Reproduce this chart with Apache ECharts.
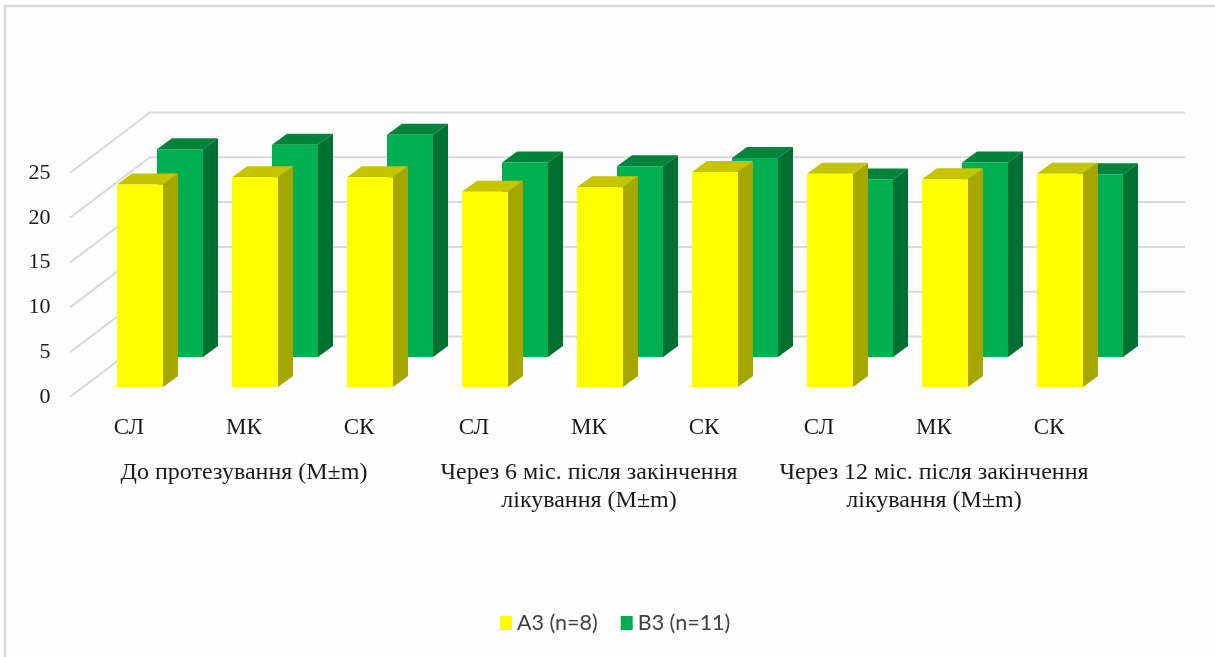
<!DOCTYPE html>
<html>
<head>
<meta charset="utf-8">
<script src="https://cdn.jsdelivr.net/npm/echarts@6/dist/echarts.min.js"></script>
<style>
  html, body { margin: 0; padding: 0; background: #fff; }
  #chart { width: 1215px; height: 657px; }
</style>
</head>
<body>
<div id="chart"></div>
<script>
const measures = ['СЛ', 'МК', 'СК', 'СЛ', 'МК', 'СК', 'СЛ', 'МК', 'СК'];
const periods = [
  'До протезування (M±m)',
  'Через 6 міс. після закінчення\nлікування (M±m)',
  'Через 12 міс. після закінчення\nлікування (M±m)'
];
const tickValues = [0, 5, 10, 15, 20, 25];
const seriesA3 = [22.6, 23.4, 23.4, 21.8, 22.3, 24.0, 23.8, 23.2, 23.8];
const seriesB3 = [23.2, 23.7, 24.8, 21.7, 21.3, 22.2, 19.8, 21.7, 20.4];

// Oblique projection used to fake the 3D column look
const WALL_DX = 80, WALL_DY = 60.5;
const WALL_RIGHT = 1185;
const BAR_WIDTH = 46, SIDE_DX = 15, SIDE_DY = 11;

function poly(points, fill) {
  return { type: 'polygon', shape: { points }, style: { fill, stroke: null } };
}

function column(faceColors, shiftX, shiftY) {
  return function (params, api) {
    const top = api.coord([api.value(0), api.value(1)]);
    const base = api.coord([api.value(0), 0]);
    const x0 = top[0] - BAR_WIDTH / 2 + shiftX, x1 = x0 + BAR_WIDTH;
    const yT = top[1] + shiftY, yB = base[1] + shiftY;
    return {
      type: 'group',
      children: [
        poly([[x1, yT], [x1 + SIDE_DX, yT - SIDE_DY], [x1 + SIDE_DX, yB - SIDE_DY], [x1, yB]], faceColors[1]),
        poly([[x0, yT], [x0 + SIDE_DX, yT - SIDE_DY], [x1 + SIDE_DX, yT - SIDE_DY], [x1, yT]], faceColors[2]),
        { type: 'rect', shape: { x: x0, y: yT, width: BAR_WIDTH, height: yB - yT }, style: { fill: faceColors[0] } }
      ]
    };
  };
}

function wallLine(params, api) {
  const p = api.coord([0, api.value(0)]);
  const size = api.size([1, 0]);
  const x = p[0] - size[0] / 2 - 1.5;
  const pts = [[x, p[1]], [x + WALL_DX, p[1] - WALL_DY], [WALL_RIGHT, p[1] - WALL_DY]];
  return { type: 'polyline', shape: { points: pts }, style: { fill: null, stroke: '#d9d9d9', lineWidth: 2 } };
}

const chart = echarts.init(document.getElementById('chart'), null, { renderer: 'canvas' });
const grid = { left: 71.5, top: 173, width: 1035, height: 224 };
const serif = '"Liberation Serif", serif';

chart.setOption({
  animation: false,
  backgroundColor: '#fdfdfd',
  textStyle: { fontFamily: serif },
  grid,
  graphic: [{
    type: 'rect',
    silent: true,
    shape: { x: 5, y: 6, width: 1240, height: 680 },
    style: { fill: null, stroke: '#d9d9d9', lineWidth: 2.5 }
  }],
  legend: {
    data: ['А3 (n=8)', 'В3 (n=11)'],
    left: 495,
    top: 607,
    icon: 'rect',
    itemWidth: 12,
    itemHeight: 14,
    itemGap: 23,
    textStyle: { fontFamily: 'Lato, sans-serif', fontSize: 21.5, color: '#404040' }
  },
  xAxis: [
    {
      type: 'category',
      data: measures,
      axisLine: { show: false },
      axisTick: { show: false },
      axisLabel: { interval: 0, margin: 19, fontSize: 23, color: '#1a1a1a', fontFamily: serif }
    },
    {
      type: 'category',
      data: periods,
      position: 'bottom',
      offset: 52,
      axisLine: { show: false },
      axisTick: { show: false },
      axisLabel: { interval: 0, margin: 10, fontSize: 24, lineHeight: 28, color: '#1a1a1a', fontFamily: serif }
    }
  ],
  yAxis: {
    type: 'value',
    min: 0,
    max: 25,
    interval: 5,
    axisLine: { show: false },
    axisTick: { show: false },
    splitLine: { show: false },
    axisLabel: { margin: 21, fontSize: 22, color: '#1a1a1a', fontFamily: serif, padding: [4, 0, 0, 0] }
  },
  series: [
    {
      name: 'wall',
      type: 'custom',
      renderItem: wallLine,
      data: tickValues.map(v => [v]),
      encode: { y: 0 },
      silent: true,
      clip: false,
      z: 1
    },
    {
      name: 'В3 (n=11)',
      type: 'custom',
      renderItem: column(['#00B050', '#006F32', '#00843C'], 51, -40),
      data: seriesB3.map((v, i) => [i, v]),
      encode: { x: 0, y: 1 },
      itemStyle: { color: '#00B050' },
      clip: false,
      z: 2
    },
    {
      name: 'А3 (n=8)',
      type: 'custom',
      renderItem: column(['#FFFF00', '#A6A600', '#C4C400'], 11, -10),
      data: seriesA3.map((v, i) => [i, v]),
      encode: { x: 0, y: 1 },
      itemStyle: { color: '#FFFF00' },
      clip: false,
      z: 3
    }
  ]
});
</script>
</body>
</html>
